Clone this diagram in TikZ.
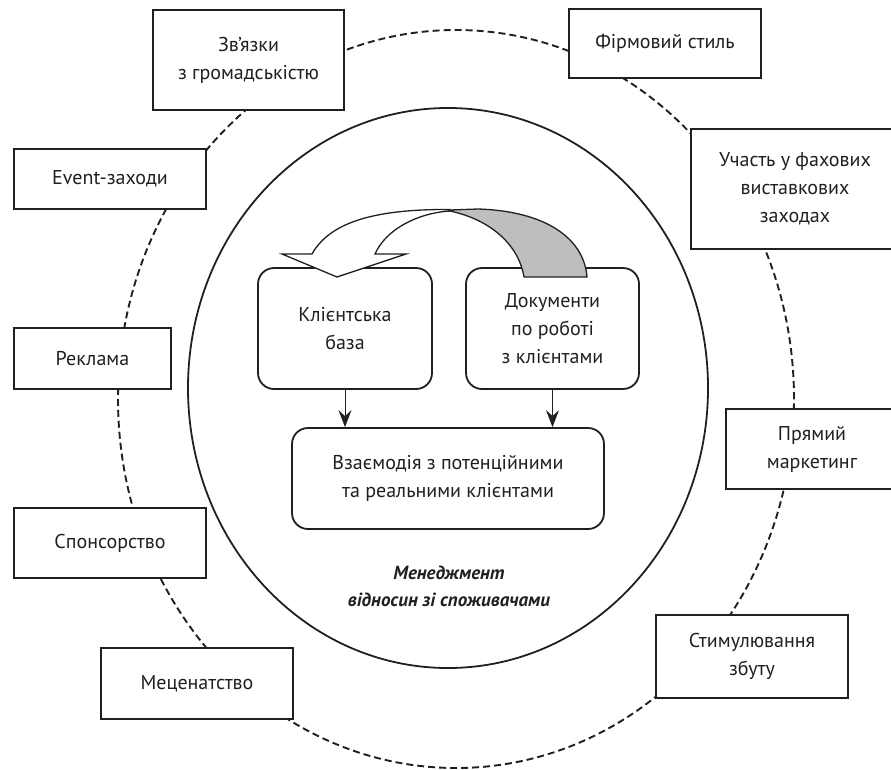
\documentclass[tikz,border=0pt]{standalone}
\usepackage{fontspec}
\setmainfont{PT Sans}
\usetikzlibrary{arrows.meta}
\definecolor{ink}{HTML}{231F20}
\definecolor{band}{HTML}{BCBEC0}
\begin{document}
\begin{tikzpicture}[x=1pt,y=-1pt,
  txt/.style={text=ink, align=center, font=\fontsize{20}{28}\selectfont},
  outbox/.style={txt, draw=ink, line width=2.3pt, fill=white, inner sep=0pt},
  inbox/.style={txt, draw=ink, line width=1.8pt, rounded corners=16pt, fill=white, inner sep=0pt},
  ring/.style={draw=ink, line width=1.9pt, dash pattern=on 7pt off 4pt},
  flow/.style={draw=ink, line width=0.9pt, -{Stealth[length=17pt,width=13pt,inset=6pt]}}
]
\useasboundingbox (0,0) rectangle (891,769);
\clip (0,0) rectangle (891,769);
% outer dashed ring
\draw[ring] (456,399) ellipse [x radius=338pt, y radius=369pt];
% inner circle
\draw[draw=ink, line width=1.8pt] (448,388) ellipse [x radius=260pt, y radius=280pt];
% outer boxes
\node[outbox, minimum width=191pt, minimum height=100pt] (pr) at (248.5,60) {Зв’язки\\з громадськістю};
\node[outbox, minimum width=192pt, minimum height=69pt] (firm) at (665,43.5) {Фірмовий стиль};
\node[outbox, minimum width=208pt, minimum height=120pt] (uch) at (795,189) {Участь у фахових\\виставкових\\заходах};
\node[outbox, minimum width=192pt, minimum height=60pt] (event) at (110,179) {Event-заходи};
\node[outbox, minimum width=157pt, minimum height=61pt] (rekl) at (92.5,358.5) {Реклама};
\node[outbox, minimum width=192pt, minimum height=70pt] (spons) at (110,543) {Спонсорство};
\node[outbox, minimum width=192pt, minimum height=71pt] (mecen) at (197,683.5) {Меценатство};
\node[outbox, minimum width=172pt, minimum height=80pt] (pryam) at (812,449) {Прямий\\маркетинг};
\node[outbox, minimum width=192pt, minimum height=83pt] (stym) at (752,656.5) {Стимулювання\\збуту};
% inner boxes
\node[inbox, minimum width=174pt, minimum height=121pt] (kb) at (345,328.5) {Клієнтська\\база};
\node[inbox, minimum width=173pt, minimum height=121pt] (doc) at (552.5,328.5) {Документи\\по роботі\\з клієнтами};
\node[inbox, minimum width=312pt, minimum height=101pt] (vz) at (448,478.5) {Взаємодія з потенційними\\та реальними клієнтами};
\draw[flow] (kb.south) -- (kb.south |- vz.north);
\draw[flow] (doc.south) -- (doc.south |- vz.north);
% curved arrows
\draw[draw=ink, line width=1.3pt, fill=band, line join=round]
  (450,210) -- (478,209) .. controls (545,211) and (584,238) .. (587,277)
  -- (524,277) .. controls (519,246) and (492,220) .. (450,211) -- cycle;
\draw[draw=ink, line width=1.3pt, fill=white, line join=miter]
  (450,211) .. controls (418,213) and (386,229) .. (375,254)
  -- (406,254) -- (337,277) -- (282,254) -- (312,254)
  .. controls (330,222) and (375,209) .. (450,209.5) -- cycle;
% caption
\node[text=ink, align=center, font=\fontsize{19}{27}\selectfont\bfseries\itshape] (cap) at (449,586) {Менеджмент\\відносин зі споживачами};
\end{tikzpicture}
\end{document}
